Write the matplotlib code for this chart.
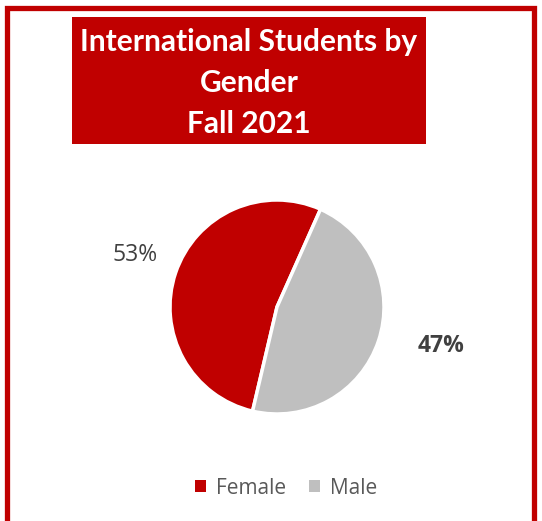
import numpy as np
import matplotlib
matplotlib.use("Agg")
import matplotlib.pyplot as plt
from matplotlib.patches import Rectangle

# data
labels = ["Female", "Male"]
shares = [53, 47]
colors = ["#C00000", "#BFBFBF"]
pct_text = ["53%", "47%"]

W, H = 542, 521
fig = plt.figure(figsize=(W / 100, H / 100), dpi=100)
fig.patch.set_facecolor("white")

def fx(px):
    return px / W

def fy(py):
    return 1 - py / H

# outer red border (bottom runs off the picture)
fig.patches.append(Rectangle((fx(7), fy(560)), fx(527), (560 - 8) / H,
                             transform=fig.transFigure, fill=False,
                             edgecolor="#C00000", linewidth=3.8))

# title box
fig.patches.append(Rectangle((fx(72), fy(144)), fx(354), (144 - 17) / H,
                             transform=fig.transFigure, facecolor="#C00000",
                             edgecolor="none"))
fig.text(fx(249), fy(83), "International Students by\nGender\nFall 2021",
         ha="center", va="center", color="white", fontsize=21.5,
         fontweight="bold", family="Lato", linespacing=1.55)

# pie
cx, cy, r = 277, 307, 107
ax = fig.add_axes([fx(cx - r), fy(cy + r), 2 * r / W, 2 * r / H])
wedges, _ = ax.pie(shares, colors=colors, startangle=66, counterclock=True,
                   radius=1, wedgeprops=dict(edgecolor="white", linewidth=2.5))
ax.set_xlim(-1, 1)
ax.set_ylim(-1, 1)
ax.axis("off")

dists = [1.42, 1.62]
weights = ["normal", "bold"]
lifts = [0.03, 0.15]
for w, t, d, wt, lf in zip(wedges, pct_text, dists, weights, lifts):
    ang = np.deg2rad((w.theta1 + w.theta2) / 2)
    ax.text(d * np.cos(ang) - (0.0 if wt == "bold" else -0.02), d * np.sin(ang) + lf, t,
            ha="center", va="center", fontsize=16.5, color="#404040",
            fontweight=wt, family="Open Sans", clip_on=False)

leg = fig.legend(wedges, labels, loc="center", bbox_to_anchor=(fx(286), fy(488)),
                 ncol=2, frameon=False, handlelength=0.55, handleheight=0.55,
                 handletextpad=0.45, columnspacing=1.1,
                 prop=dict(family="Open Sans", size=15))
for t in leg.get_texts():
    t.set_color("#595959")
for h in leg.legend_handles:
    h.set_edgecolor("none")

fig.savefig("out.png", dpi=100)
